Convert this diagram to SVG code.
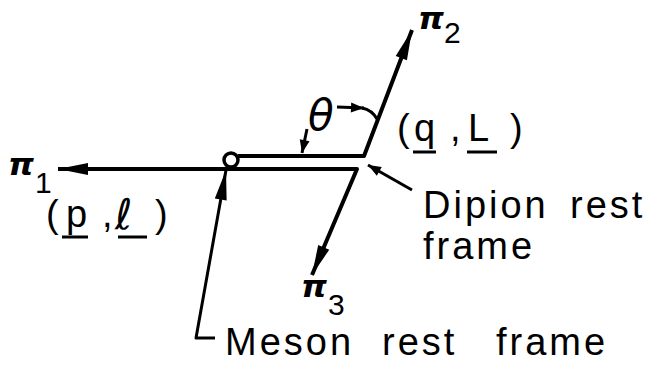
<svg xmlns="http://www.w3.org/2000/svg" width="650" height="369" viewBox="0 0 650 369">
<style>
.ln{fill:none;stroke:#000;stroke-width:4;stroke-linejoin:round;stroke-linecap:butt}
.thin{stroke-width:3}
.lbl{font-family:"Liberation Sans",Arial,sans-serif;font-size:38px;letter-spacing:3px;fill:#000}
.pi{font-family:"DejaVu Sans",sans-serif;font-style:oblique;font-weight:bold;font-size:31px;fill:#000}
.sub{font-family:"Liberation Sans",Arial,sans-serif;font-size:30px;font-style:normal;font-weight:normal}
.sym{font-family:"DejaVu Sans",sans-serif;font-style:oblique;fill:#000}
.ul{stroke:#000;stroke-width:3}
</style>
<defs>
<marker id="ah" viewBox="-31 -7 32 14" refX="0" refY="0" markerWidth="32" markerHeight="14" markerUnits="userSpaceOnUse" orient="auto">
<path d="M0,0 L-30,-6 L-30,6 Z" fill="#000"/>
</marker>
<marker id="as" viewBox="-14 -6 15 12" refX="0" refY="0" markerWidth="15" markerHeight="12" markerUnits="userSpaceOnUse" orient="auto">
<path d="M0,0 L-13,-5 L-13,5 Z" fill="#000"/>
</marker>
</defs>
<rect width="650" height="369" fill="#fff"/>
<g id="connectors">
<path class="ln" d="M231,169 L58,169" marker-end="url(#ah)"/>
<path class="ln" d="M238,156 L364,156 L412,30" marker-end="url(#ah)"/>
<path class="ln" d="M231,169 L357,169 L312,275" marker-end="url(#ah)"/>
<path class="ln thin" d="M215,338 L196,338 L226,170" marker-end="url(#ah)"/>
<path class="ln thin" d="M412,190 L368,165" marker-end="url(#as)"/>
<path class="ln thin" d="M337,107 L364,108" marker-end="url(#as)"/>
<path class="ln thin" d="M362,108 Q372,110 377,119"/>
<path class="ln thin" d="M307,129 L302,153" marker-end="url(#as)"/>
</g>
<g id="meson-origin">
<circle cx="231" cy="160" r="7" fill="#fff" stroke="#000" stroke-width="3.5"/>
</g>
<g id="pi1">
<text class="pi" x="8" y="175"><tspan textLength="26" lengthAdjust="spacingAndGlyphs">π</tspan><tspan class="sub" x="35" y="193">1</tspan></text>
<text class="lbl" y="227"><tspan x="46">(</tspan><tspan x="66">p</tspan><tspan x="102">,</tspan><tspan x="155">)</tspan></text>
<text class="sym" x="115" y="229" font-size="42">ℓ</text>
<line class="ul" x1="62" y1="237" x2="88" y2="237"/>
<line class="ul" x1="118" y1="237" x2="147" y2="237"/>
</g>
<g id="pi2">
<text class="pi" x="418" y="29"><tspan textLength="26" lengthAdjust="spacingAndGlyphs">π</tspan><tspan class="sub" x="444" y="43">2</tspan></text>
<text class="lbl" y="141"><tspan x="397">(</tspan><tspan x="414">q</tspan><tspan x="450">,</tspan><tspan x="468">L</tspan><tspan x="510">)</tspan></text>
<line class="ul" x1="413" y1="152" x2="436" y2="152"/>
<line class="ul" x1="467" y1="152" x2="497" y2="152"/>
</g>
<g id="pi3">
<text class="pi" x="301" y="297"><tspan textLength="26" lengthAdjust="spacingAndGlyphs">π</tspan><tspan class="sub" x="328" y="315">3</tspan></text>
</g>
<g id="theta">
<text class="sym" x="308" y="130" font-size="42">θ</text>
</g>
<g id="dipion">
<text class="lbl" y="218"><tspan x="423">Dipion</tspan><tspan x="570">rest</tspan></text>
<text class="lbl" x="423" y="259">frame</text>
</g>
<g id="meson">
<text class="lbl" y="355"><tspan x="225">Meson</tspan><tspan x="382">rest</tspan><tspan x="496">frame</tspan></text>
</g>
</svg>
